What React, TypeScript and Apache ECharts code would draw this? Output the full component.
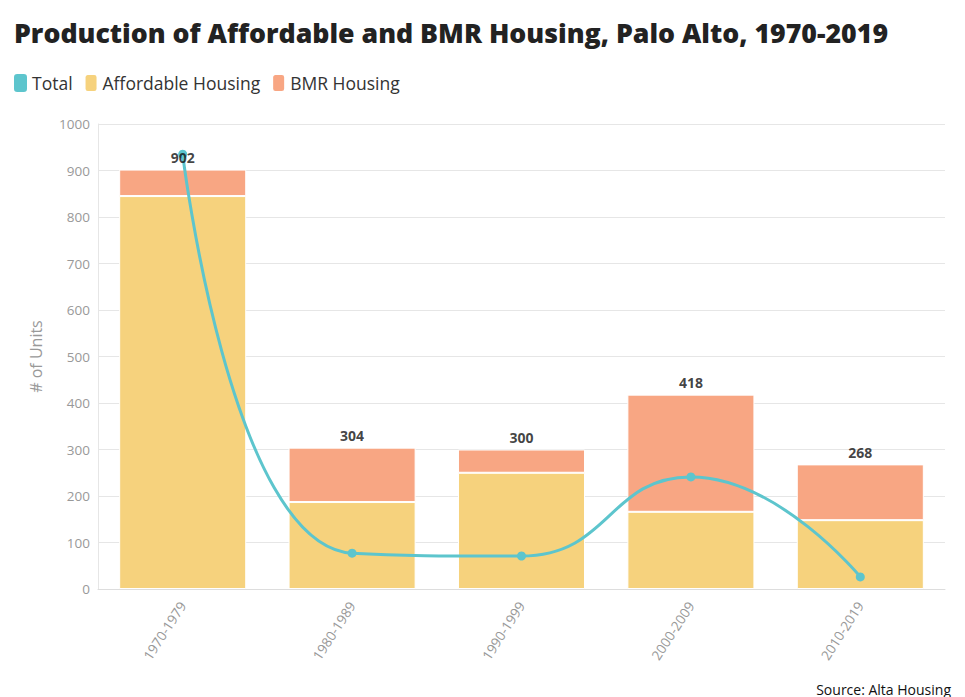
import React, { useEffect, useRef } from "react";
import * as echarts from "echarts";

const categories = ["1970-1979", "1980-1989", "1990-1999", "2000-2009", "2010-2019"];
const affordable = [845, 187, 250, 166, 148];
const bmr = [57, 117, 50, 252, 120];
const totalLine = [935, 77, 71, 241, 26];
const yTicks = { min: 0, max: 1000, interval: 100 };

export default function App() {
  const ref = useRef<HTMLDivElement>(null);
  useEffect(() => {
    if (!ref.current) return;
    const chart = echarts.init(ref.current, null, { renderer: "svg" });
    const font = "'Source Sans Pro', 'Open Sans', sans-serif";
    const totals = affordable.map((a, i) => a + bmr[i]);
    chart.setOption({
      animation: false,
      textStyle: { fontFamily: font },
      title: {
        text: "Production of Affordable and BMR Housing, Palo Alto, 1970-2019",
        left: 1,
        top: 6,
        padding: [5, 5, 5, 5],
        textStyle: { fontFamily: font, fontWeight: 800, fontSize: 26.7, color: "#222" },
      },
      graphic: [
        {
          type: "text",
          right: 6,
          bottom: 1,
          style: { text: "Source: Alta Housing", fontFamily: font, fontSize: 14, fill: "#111" },
        },
      ],
      legend: {
        left: 1,
        top: 60,
        itemWidth: 13,
        itemHeight: 18,
        itemGap: 11,
        icon: "roundRect",
        textStyle: { fontFamily: font, fontSize: 17.5, color: "#333", padding: [0, 0, 0, 0] },
        data: ["Total", "Affordable Housing", "BMR Housing"],
      },
      grid: { left: 90, right: 12, top: 116, bottom: 108 },
      xAxis: {
        type: "category",
        data: categories,
        axisLine: { lineStyle: { color: "#ddd" } },
        axisTick: { alignWithLabel: true, lineStyle: { color: "#ddd" } },
        axisLabel: { rotate: 57, color: "#999", fontSize: 13.5, margin: 14 },
      },
      yAxis: {
        type: "value",
        min: yTicks.min,
        max: yTicks.max,
        interval: yTicks.interval,
        name: "# of Units",
        nameLocation: "middle",
        nameGap: 54,
        nameTextStyle: { color: "#999", fontSize: 16 },
        axisLine: { show: true, lineStyle: { color: "#e6e6e6" } },
        axisLabel: { color: "#999", fontSize: 13.5, formatter: (v: number) => String(v) },
        splitLine: { lineStyle: { color: "#e6e6e6" } },
      },
      series: [
        {
          name: "Total",
          type: "line",
          data: totalLine,
          smooth: true,
          symbol: "circle",
          symbolSize: 9,
          color: "#5DC5CD",
          lineStyle: { width: 3, color: "#5DC5CD" },
          z: 3,
        },
        {
          name: "Affordable Housing",
          type: "bar",
          stack: "s",
          data: affordable,
          barCategoryGap: "25%",
          color: "#F6D27D",
          itemStyle: { color: "#F6D27D", borderColor: "#fff", borderWidth: 1 },
          z: 2,
        },
        {
          name: "BMR Housing",
          type: "bar",
          stack: "s",
          data: bmr,
          color: "#F8A683",
          itemStyle: { color: "#F8A683", borderColor: "#fff", borderWidth: 1 },
          z: 2,
        },
        {
          name: "labels",
          type: "scatter",
          data: totals,
          symbolSize: 0,
          silent: true,
          z: 10,
          label: {
            show: true,
            position: "top",
            distance: 5,
            fontWeight: "bold",
            fontSize: 14,
            color: "#111",
            formatter: (p: any) => String(p.value),
          },
        },
      ],
    });
    return () => chart.dispose();
  }, []);
  return <div ref={ref} style={{ width: 949, height: 689 }} />;
}
